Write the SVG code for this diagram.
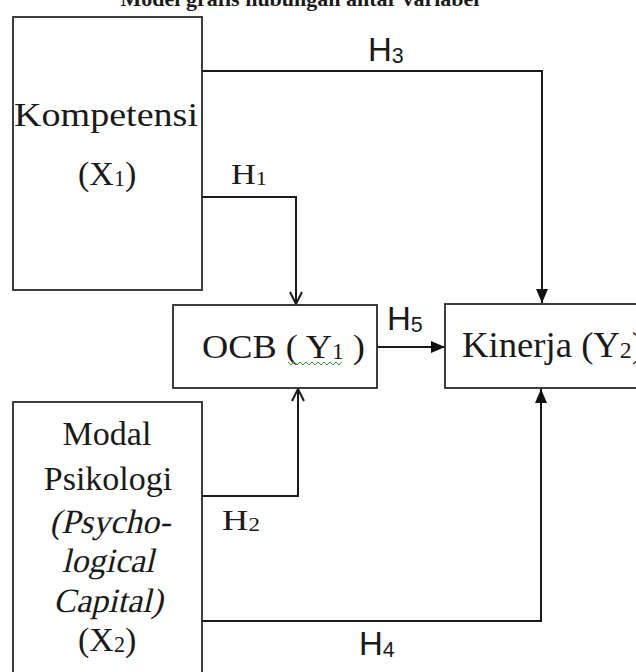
<svg xmlns="http://www.w3.org/2000/svg" width="636" height="672" viewBox="0 0 636 672">
<defs>
<style>
.box{fill:#fff;stroke:#2a2a2a;stroke-width:1.8}
.con{fill:none;stroke:#1a1a1a;stroke-width:2}
.serif{font-family:"Liberation Serif","Times New Roman",serif;fill:#1a1a1a}
.sans{font-family:"Liberation Sans",Arial,sans-serif;fill:#1a1a1a}
.sub{font-size:0.65em}
</style>
<marker id="open" viewBox="0 0 14 14" refX="13" refY="7" markerWidth="14" markerHeight="14" orient="auto" markerUnits="userSpaceOnUse">
<path d="M1,1 L13,7 L1,13" fill="none" stroke="#1a1a1a" stroke-width="2"/>
</marker>
<marker id="fill" viewBox="0 0 14 12" refX="14" refY="6" markerWidth="14" markerHeight="12" orient="auto" markerUnits="userSpaceOnUse">
<path d="M0,0 L14,6 L0,12 z" fill="#111"/>
</marker>
</defs>
<rect width="636" height="672" fill="#fff"/>
<text class="serif" x="300" y="6" font-size="22" font-weight="bold" text-anchor="middle">Model grafis hubungan antar variabel</text>

<g id="connectors">
<path class="con" d="M202,71 H542 V303" marker-end="url(#fill)"/>
<path class="con" d="M202,197 H296 V304" marker-end="url(#open)"/>
<path class="con" d="M202,496 H298 V389" marker-end="url(#open)"/>
<path class="con" d="M202,621 H541 V389" marker-end="url(#fill)"/>
<path class="con" d="M377,347 H445" marker-end="url(#fill)"/>
<text class="sans" x="368" y="61" font-size="33">H<tspan class="sub" dy="2">3</tspan></text>
<text class="serif" x="231" y="184" font-size="30" textLength="36" lengthAdjust="spacingAndGlyphs">H<tspan class="sub" dy="1">1</tspan></text>
<text class="serif" x="222" y="530" font-size="30" textLength="38" lengthAdjust="spacingAndGlyphs">H<tspan class="sub" dy="1">2</tspan></text>
<text class="sans" x="359" y="655" font-size="33">H<tspan class="sub" dy="2">4</tspan></text>
<text class="sans" x="387" y="330" font-size="33">H<tspan class="sub" dy="2">5</tspan></text>
</g>

<g id="kompetensi">
<rect class="box" x="13" y="17" width="189" height="273"/>
<text class="serif" x="14" y="126" font-size="34" textLength="184" lengthAdjust="spacingAndGlyphs">Kompetensi</text>
<text class="serif" x="78" y="185" font-size="34">(X<tspan class="sub" dy="1">1</tspan><tspan dy="-1">)</tspan></text>
</g>

<g id="ocb">
<rect class="box" x="173" y="305" width="204" height="83"/>
<text class="serif" x="202" y="358" font-size="34" textLength="163" lengthAdjust="spacingAndGlyphs">OCB ( Y<tspan class="sub" dy="1">1</tspan><tspan dy="-1"> )</tspan></text>
<path d="M288,362 l3,3 l3,-3 l3,3 l3,-3 l3,3 l3,-3 l3,3 l3,-3 l3,3 l3,-3 l3,3 l3,-3 l3,3 l3,-3 l3,3 l3,-3 l3,3 l3,-3" fill="none" stroke="#3a9a3a" stroke-width="1"/>
</g>

<g id="kinerja">
<rect class="box" x="445" y="304" width="200" height="84"/>
<text class="serif" x="462" y="357" font-size="35" textLength="182" lengthAdjust="spacingAndGlyphs">Kinerja (Y<tspan class="sub" dy="1">2</tspan><tspan dy="-1">)</tspan></text>
</g>

<g id="modal">
<rect class="box" x="13" y="402" width="189" height="290"/>
<text class="serif" x="107" y="445" font-size="34" text-anchor="middle">Modal</text>
<text class="serif" x="108" y="490" font-size="34" text-anchor="middle">Psikologi</text>
<text class="serif" transform="translate(110,533) skewX(-13)" font-size="34" text-anchor="middle">(Psycho-</text>
<text class="serif" transform="translate(108,572) skewX(-13)" font-size="34" text-anchor="middle">logical</text>
<text class="serif" transform="translate(108,612) skewX(-13)" font-size="34" text-anchor="middle">Capital)</text>
<text class="serif" x="78" y="651" font-size="34">(X<tspan class="sub" dy="1">2</tspan><tspan dy="-1">)</tspan></text>
</g>
</svg>
